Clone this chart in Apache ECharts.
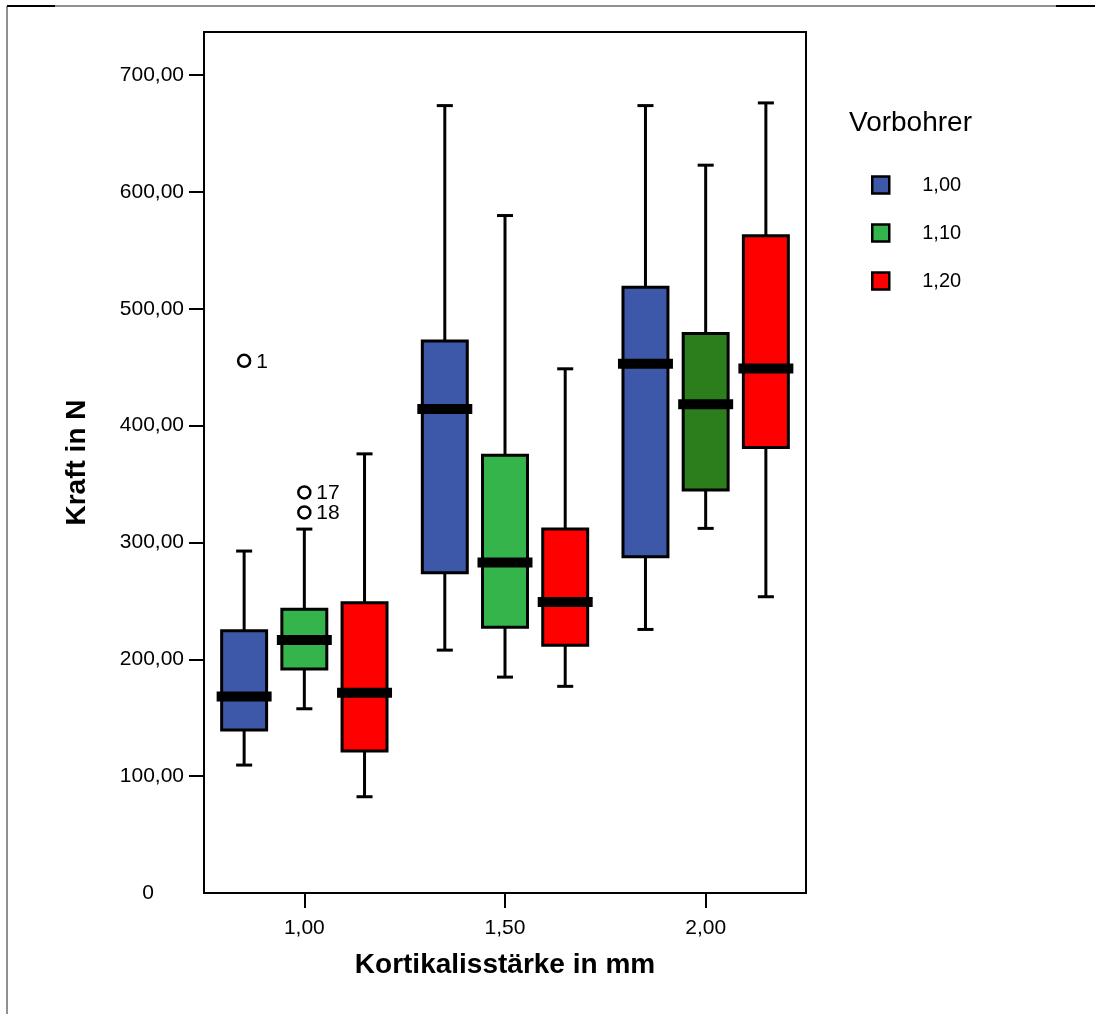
<!DOCTYPE html>
<html>
<head>
<meta charset="utf-8">
<title>Kraft in N nach Kortikalisstärke und Vorbohrer</title>
<script src="https://cdn.jsdelivr.net/npm/echarts@6/dist/echarts.min.js"></script>
<style>
  html, body { margin: 0; padding: 0; background: #fff; }
  #chart { width: 1095px; height: 1014px; }
</style>
</head>
<body>
<div id="chart"></div>
<script>
// Kortikalisstärke categories (x axis)
const categories = ['1,00', '1,50', '2,00'];
// Vorbohrer groups (legend)
const groups = ['1,00', '1,10', '1,20'];
// y axis tick values
const yTickValues = [0, 100, 200, 300, 400, 500, 600, 700];

// Box statistics per category: [lower whisker, Q1, median, Q3, upper whisker]
const boxes100 = [
  [109.5, 139.5, 168.3, 224.4, 292.7],
  [207.9, 274.1, 414.2, 472.6, 674.0],
  [225.6, 287.8, 453.0, 518.6, 674.0]
];
const boxes110 = [
  [157.7, 191.7, 216.5, 242.8, 311.5],
  [184.8, 227.4, 283.0, 374.8, 579.9],
  [312.1, 344.9, 418.4, 479.0, 623.0]
];
const boxes120 = [
  [82.4, 121.5, 171.4, 248.4, 375.9],
  [176.9, 212.0, 249.0, 311.5, 448.7],
  [253.6, 381.4, 449.0, 562.5, 676.3]
];

// Outliers: [category index, value, case number]
const outliers100 = [[0, 455.5, '1']];
const outliers110 = [[0, 342.9, '17'], [0, 325.8, '18']];
const outliers120 = [];

// Fill colours per Vorbohrer group, plus a darker shade for 1,10 at 2,00
const groupColors = ['#3E58A9', '#34B44B', '#FF0000'];
const fillOverrides = { '1|2': '#2C7D1B' };

const FONT = '"Liberation Sans", Arial, sans-serif';

function boxData(rows) {
  return rows.map((r, i) => [i].concat(r));
}

function groupOffset(band, g) {
  return (g - 1) * band * 0.3;
}

function makeBoxRenderer(g) {
  return function (params, api) {
    const cat = api.value(0);
    const band = api.size([1, 0])[0];
    const cx = api.coord([cat, 0])[0] + groupOffset(band, g);
    const y = v => api.coord([cat, v])[1];
    const low = y(api.value(1)), q1 = y(api.value(2)), med = y(api.value(3)),
          q3 = y(api.value(4)), high = y(api.value(5));
    const boxHalf = band * 0.112;
    const medHalf = band * 0.137;
    const capHalf = band * 0.04;
    const fill = fillOverrides[g + '|' + cat] || groupColors[g];
    const lineStyle = { stroke: '#000', lineWidth: 3 };
    return {
      type: 'group',
      children: [
        { type: 'line', shape: { x1: cx, y1: q3, x2: cx, y2: high }, style: lineStyle },
        { type: 'line', shape: { x1: cx, y1: q1, x2: cx, y2: low }, style: lineStyle },
        { type: 'line', shape: { x1: cx - capHalf, y1: high, x2: cx + capHalf, y2: high }, style: lineStyle },
        { type: 'line', shape: { x1: cx - capHalf, y1: low, x2: cx + capHalf, y2: low }, style: lineStyle },
        { type: 'rect', shape: { x: cx - boxHalf, y: q3, width: boxHalf * 2, height: q1 - q3 },
          style: { fill: fill, stroke: '#000', lineWidth: 3 } },
        { type: 'rect', shape: { x: cx - medHalf, y: med - 5, width: medHalf * 2, height: 10 },
          style: { fill: '#000' } }
      ]
    };
  };
}

function makeOutlierRenderer(g) {
  return function (params, api) {
    const cat = api.value(0);
    const band = api.size([1, 0])[0];
    const cx = api.coord([cat, 0])[0] + groupOffset(band, g);
    const cy = api.coord([cat, api.value(1)])[1];
    const label = api.value(2);
    return {
      type: 'group',
      children: [
        { type: 'circle', shape: { cx: cx, cy: cy, r: 6 },
          style: { fill: '#fff', stroke: '#000', lineWidth: 2.5 } },
        { type: 'text', x: cx + 12, y: cy + 1,
          style: { text: String(label), fill: '#000', font: '21px ' + FONT,
                   verticalAlign: 'middle', align: 'left' } }
      ]
    };
  };
}

const boxSets = [boxes100, boxes110, boxes120];
const outlierSets = [outliers100, outliers110, outliers120];

const series = [];
groups.forEach((name, g) => {
  series.push({
    name: name,
    type: 'custom',
    renderItem: makeBoxRenderer(g),
    itemStyle: { color: groupColors[g] },
    encode: { x: 0, y: [1, 2, 3, 4, 5] },
    data: boxData(boxSets[g]),
    z: 3
  });
  if (outlierSets[g].length) {
    series.push({
      name: name,
      type: 'custom',
      renderItem: makeOutlierRenderer(g),
      itemStyle: { color: groupColors[g] },
      dimensions: ['cat', 'value', { name: 'case', type: 'ordinal' }],
      encode: { x: 0, y: 1 },
      data: outlierSets[g],
      z: 4
    });
  }
});

const chart = echarts.init(document.getElementById('chart'), null, { renderer: 'canvas' });
chart.setOption({
  animation: false,
  backgroundColor: '#fff',
  grid: {
    left: 204, right: 289, top: 32, bottom: 121,
    show: true, borderColor: '#000', borderWidth: 2, backgroundColor: 'transparent'
  },
  xAxis: {
    type: 'category',
    data: categories,
    name: 'Kortikalisstärke in mm',
    nameLocation: 'middle',
    nameGap: 58,
    nameTextStyle: { fontFamily: FONT, fontWeight: 'bold', fontSize: 28, color: '#000' },
    axisLine: { show: true, lineStyle: { color: '#000', width: 2 } },
    axisTick: { show: true, alignWithLabel: true, length: 15, lineStyle: { color: '#000', width: 2 } },
    axisLabel: { fontFamily: FONT, fontSize: 21, color: '#000', margin: 25 },
    splitLine: { show: false }
  },
  yAxis: {
    type: 'value',
    min: 0,
    max: 737,
    interval: 100,
    name: 'Kraft in N',
    nameLocation: 'middle',
    nameRotate: 90,
    nameGap: 113,
    nameTextStyle: { fontFamily: FONT, fontWeight: 'bold', fontSize: 28, color: '#000' },
    axisLine: { show: true, lineStyle: { color: '#000', width: 2 } },
    axisTick: {
      show: true, length: 15, lineStyle: { color: '#000', width: 2 },
      customValues: yTickValues.filter(v => v > 0)
    },
    axisLabel: {
      fontFamily: FONT, fontSize: 21, color: '#000', margin: 20,
      customValues: yTickValues,
      formatter: v => v === 0 ? '{z|0}' : v.toFixed(2).replace('.', ','),
      rich: { z: { fontFamily: FONT, fontSize: 21, color: '#000', padding: [0, 30, 0, 0] } }
    },
    splitLine: { show: false }
  },
  legend: {
    data: groups,
    orient: 'vertical',
    left: 866,
    top: 170,
    itemWidth: 17,
    itemHeight: 17,
    itemGap: 28,
    icon: 'rect',
    itemStyle: { borderColor: '#000', borderWidth: 2.5 },
    textStyle: { fontFamily: FONT, fontSize: 20, color: '#000', padding: [0, 0, 0, 28] },
    selectedMode: false
  },
  graphic: [
    { type: 'text', left: 849, top: 109,
      style: { text: 'Vorbohrer', font: '28px ' + FONT, fill: '#000' } },
    { type: 'line', shape: { x1: 7, y1: 6, x2: 1095, y2: 6 }, style: { stroke: '#222', lineWidth: 1 } },
    { type: 'line', shape: { x1: 7, y1: 6, x2: 7, y2: 1014 }, style: { stroke: '#222', lineWidth: 1 } },
    { type: 'line', shape: { x1: 7, y1: 6, x2: 55, y2: 6 }, style: { stroke: '#000', lineWidth: 2 } },
    { type: 'line', shape: { x1: 1056, y1: 6, x2: 1095, y2: 6 }, style: { stroke: '#000', lineWidth: 2 } }
  ],
  series: series
});
</script>
</body>
</html>
